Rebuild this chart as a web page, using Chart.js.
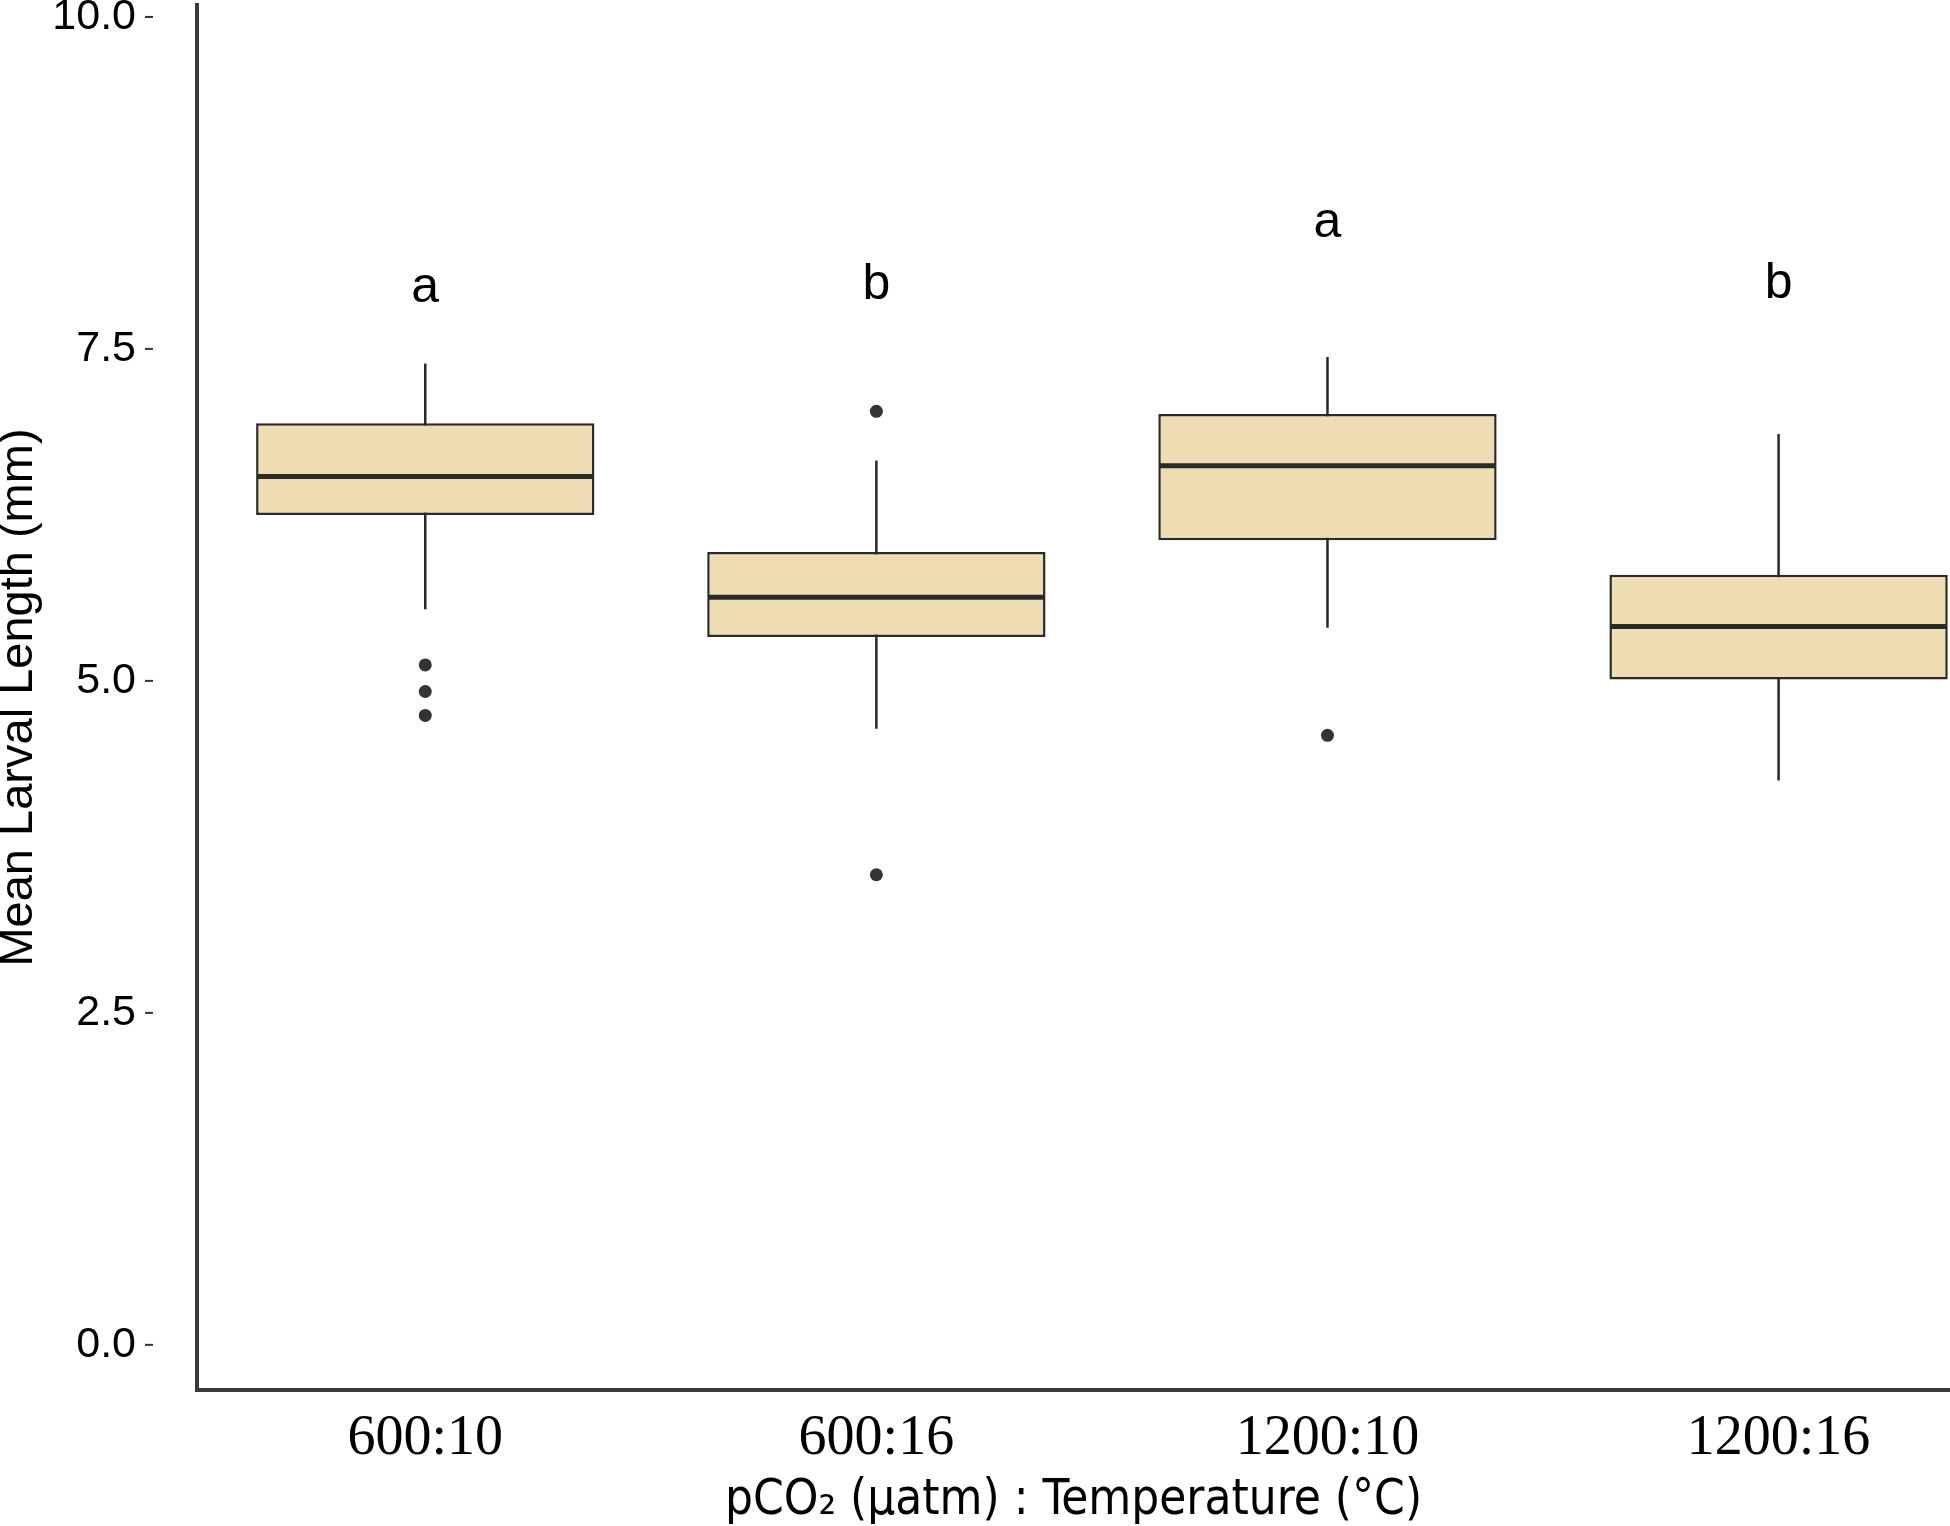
<!DOCTYPE html>
<html>
<head>
<meta charset="utf-8">
<title>Mean Larval Length</title>
<script src="https://cdn.jsdelivr.net/npm/chart.js@4.4.1/dist/chart.umd.min.js"></script>
<style>
  html, body { margin: 0; padding: 0; background: #fff; }
  #chartBox { width: 1950px; height: 1526px; }
</style>
</head>
<body>
<div id="chartBox"><canvas id="larvalChart" width="1950" height="1526"></canvas></div>
<script>
// 分组 (pCO2 : 温度)
const groups = ['600:10', '600:16', '1200:10', '1200:16'];
// 箱线图统计量
const q1Values = [6.25, 5.33, 6.06, 5.01];
const medianValues = [6.54, 5.63, 6.62, 5.41];
const q3Values = [6.94, 5.97, 7.01, 5.80];
const whiskerLow = [5.54, 4.64, 5.40, 4.25];
const whiskerHigh = [7.39, 6.66, 7.44, 6.86];
const outlierValues = [[5.12, 4.92, 4.74], [7.03, 3.54], [4.59], []];
// 显著性字母
const sigLetters = ['a', 'b', 'a', 'b'];
const sigHeights = [7.96, 7.98, 8.45, 7.99];
// y 轴刻度
const yTicks = [0, 2.5, 5, 7.5, 10];

const axisColor = '#3a3a3a';
const lineColor = '#2a2a2a';

// y 轴刻度旁的小横线（原图刻度线离轴线有一段距离）
const tickDashPlugin = {
    id: 'tickDashes',
    afterDraw(chart) {
        const ctx = chart.ctx;
        const yScale = chart.scales.y;
        const x0 = chart.chartArea.left - 52;
        ctx.save();
        ctx.strokeStyle = '#333';
        ctx.lineWidth = 2;
        yTicks.forEach(v => {
            const y = yScale.getPixelForValue(v);
            ctx.beginPath();
            ctx.moveTo(x0, y);
            ctx.lineTo(x0 + 8, y);
            ctx.stroke();
        });
        ctx.restore();
    }
};

// 显著性字母
const letterPlugin = {
    id: 'sigLetters',
    afterDatasetsDraw(chart) {
        const ctx = chart.ctx;
        const xScale = chart.scales.x;
        const yScale = chart.scales.y;
        ctx.save();
        ctx.fillStyle = '#000';
        ctx.font = '50px "Liberation Sans", Arial, sans-serif';
        ctx.textAlign = 'center';
        ctx.textBaseline = 'middle';
        sigLetters.forEach((t, i) => {
            ctx.fillText(t, xScale.getPixelForValue(i), yScale.getPixelForValue(sigHeights[i]));
        });
        ctx.restore();
    }
};

// 须线：每组一段，用 null 断开
const whiskerData = [];
groups.forEach((g, i) => {
    whiskerData.push({ x: i, y: whiskerLow[i] });
    whiskerData.push({ x: i, y: whiskerHigh[i] });
    whiskerData.push({ x: i, y: null });
});

const outlierData = [];
outlierValues.forEach((list, i) => {
    list.forEach(v => outlierData.push({ x: i, y: v }));
});

const ctx = document.getElementById('larvalChart').getContext('2d');
new Chart(ctx, {
    type: 'bar',
    data: {
        datasets: [
            {
                // 中位数
                type: 'scatter',
                data: medianValues.map((v, i) => ({ x: i, y: v })),
                pointStyle: 'line',
                pointRadius: 168,
                pointHoverRadius: 168,
                pointBorderWidth: 5,
                pointBorderColor: lineColor,
                clip: false
            },
            {
                // 离群点
                type: 'scatter',
                data: outlierData,
                pointRadius: 6.5,
                pointBackgroundColor: '#333',
                pointBorderWidth: 0,
                clip: false
            },
            {
                // 箱体
                type: 'bar',
                data: q1Values.map((v, i) => ({ x: i, y: [v, q3Values[i]] })),
                backgroundColor: '#eedcb3',
                borderColor: lineColor,
                borderWidth: 2.5,
                borderSkipped: false,
                barPercentage: 0.75,
                categoryPercentage: 1.0,
                grouped: false
            },
            {
                // 须线
                type: 'line',
                data: whiskerData,
                borderColor: lineColor,
                borderWidth: 2.5,
                pointRadius: 0,
                fill: false,
                spanGaps: false
            }
        ]
    },
    options: {
        responsive: false,
        animation: false,
        devicePixelRatio: 1,
        layout: { autoPadding: false, padding: { top: 5, right: 0, left: 0, bottom: 0 } },
        plugins: {
            legend: { display: false },
            tooltip: { enabled: false }
        },
        scales: {
            x: {
                type: 'linear',
                min: -0.506,
                max: 3.38,
                offset: false,
                grid: { display: false, drawTicks: false },
                border: { display: true, color: axisColor, width: 4 },
                afterBuildTicks: scale => {
                    scale.ticks = groups.map((g, i) => ({ value: i }));
                },
                afterFit: scale => {
                    scale.height = 136;
                    scale.paddingLeft = 0;
                    scale.paddingRight = 0;
                    scale.paddingTop = 0;
                    scale.paddingBottom = 0;
                },
                ticks: {
                    color: '#000',
                    padding: 16,
                    autoSkip: false,
                    maxRotation: 0,
                    font: { family: '"Liberation Serif", "Times New Roman", serif', size: 56, lineHeight: 1.2 },
                    callback: (v, i) => groups[i]
                },
                title: {
                    display: true,
                    text: 'pCO₂ (μatm) : Temperature (°C)',
                    color: '#000',
                    padding: { top: 0, bottom: 0 },
                    font: { family: '"Liberation Sans Narrow", "Arial Narrow", "DejaVu Sans Condensed", sans-serif', size: 49, lineHeight: 1.0 }
                }
            },
            y: {
                min: -0.34,
                max: 10.09,
                grid: { display: false, drawTicks: false },
                border: { display: true, color: axisColor, width: 4 },
                afterBuildTicks: scale => {
                    scale.ticks = yTicks.map(v => ({ value: v }));
                },
                afterFit: scale => {
                    scale.width = 197;
                    scale.paddingLeft = 0;
                    scale.paddingRight = 0;
                    scale.paddingTop = 0;
                    scale.paddingBottom = 0;
                },
                ticks: {
                    color: '#000',
                    padding: 61,
                    font: { family: '"Liberation Sans", Arial, sans-serif', size: 43 },
                    callback: v => Number(v).toFixed(1)
                },
                title: {
                    display: true,
                    text: 'Mean Larval Length (mm)',
                    color: '#000',
                    padding: { top: 0, bottom: 0 },
                    font: { family: '"Liberation Sans", Arial, sans-serif', size: 47, lineHeight: 0.8 }
                }
            }
        }
    },
    plugins: [tickDashPlugin, letterPlugin]
});
</script>
</body>
</html>
